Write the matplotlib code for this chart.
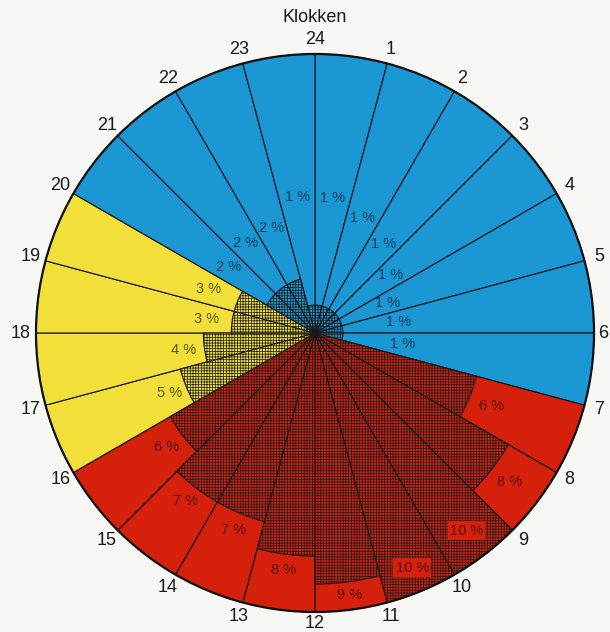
import numpy as np
import matplotlib.pyplot as plt
from matplotlib.patches import Wedge, Circle

# share of the 24 hours, sector h runs from hour line h-1 to hour line h
hours = list(range(1, 25))
share = [1, 1, 1, 1, 1, 1, 1, 6, 8, 10, 10, 9, 8, 7, 7, 6, 5, 4, 3, 3, 2, 2, 2, 1]
period = ["natt"] * 7 + ["dag"] * 9 + ["kveld"] * 4 + ["natt"] * 4

zone_color = {"natt": "#1b97d3", "dag": "#d5200c", "kveld": "#f2df3a"}
box_labels = {10}  # values printed on a plain red box inside the hatch

# layout: radius (px) where each percent label sits
label_r = [136, 125, 112, 95, 79, 84, 88, 191, 245, 249, 254, 264,
           239, 213, 212, 187, 157, 133, 109, 115, 109, 114, 114, 137]

plt.rcParams["font.family"] = ["Liberation Sans", "DejaVu Sans"]
plt.rcParams["hatch.linewidth"] = 0.5

fig = plt.figure(figsize=(6.1, 6.32), dpi=100, facecolor="#f7f7f4")
ax = fig.add_axes([0, 0, 1, 1])
ax.set_xlim(0, 610)
ax.set_ylim(0, 632)
ax.set_aspect("equal")
ax.axis("off")

cx, cy, R = 315, 299, 279

for h, s, p in zip(hours, share, period):
    a0 = 90 - h * 15
    col = zone_color[p]
    ax.add_patch(Wedge((cx, cy), R, a0, a0 + 15, facecolor=col,
                       edgecolor="#111111", lw=0.8, zorder=1))
    ax.add_patch(Wedge((cx, cy), s / 10 * R, a0, a0 + 15, facecolor=col,
                       edgecolor="#1a1a1a", lw=0.8, hatch="++++++", zorder=2))

ax.add_patch(Circle((cx, cy), R, fill=False, lw=1.6, ec="#111111", zorder=3))

for h, s, p, r in zip(hours, share, period, label_r):
    t = np.deg2rad(90 - (h - 0.5) * 15)
    x, y = cx + r * np.cos(t), cy + r * np.sin(t)
    kw = {}
    if s in box_labels:
        kw["bbox"] = dict(boxstyle="square,pad=0.15", fc=zone_color[p], ec="none")
    ax.text(x, y, f"{s} %", fontsize=10.5, color="black", alpha=0.6,
            ha="center", va="center", zorder=4, **kw)

for h in hours:
    t = np.deg2rad(90 - h * 15)
    x = min(cx + 294 * np.cos(t), 603)
    y = max(cy + 294 * np.sin(t), 9)
    ax.text(x, y, str(h), fontsize=13, color="#1a1a1a",
            ha="center", va="center", zorder=4)

ax.text(cx, 615, "Klokken", fontsize=13, color="#1a1a1a", ha="center", va="center")

fig.savefig("out.png", dpi=100, facecolor=fig.get_facecolor())
